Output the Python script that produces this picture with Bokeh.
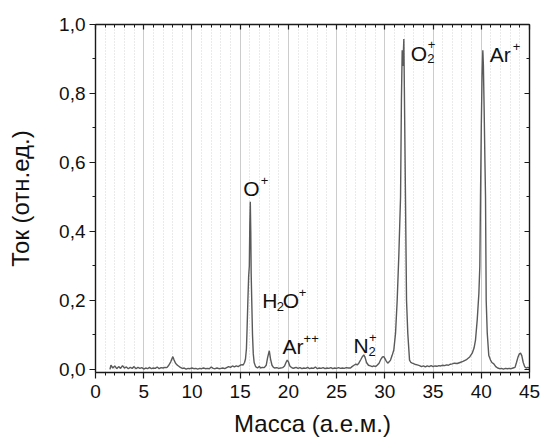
from bokeh.plotting import figure
from bokeh.models import (Range1d, FixedTicker, CustomJSTickFormatter, LinearAxis,
                          ColumnDataSource)
from bokeh.core.properties import value
from bokeh.embed import file_html
from bokeh.resources import INLINE

# ---- spectrum ----
mass = [
    1.5, 1.6, 1.8, 2.0, 2.2, 2.4, 2.6, 2.8, 3.0, 3.2, 3.4, 3.6, 3.8, 4.0, 4.2, 4.4, 4.6, 4.8,
    5.0, 5.2, 5.4, 5.6, 5.8, 6.0, 6.2, 6.4, 6.6, 6.8, 7.0, 7.2, 7.4, 7.6, 7.8, 8.02, 8.15,
    8.3, 8.45, 8.6, 8.8, 9.0, 9.2, 9.4, 9.6, 9.8, 10.0, 10.2, 10.4, 10.6, 10.8, 11.0, 11.2,
    11.4, 11.6, 11.8, 12.0, 12.2, 12.4, 12.6, 12.8, 13.0, 13.2, 13.4, 13.6, 13.8, 14.0,
    14.2, 14.4, 14.6, 14.8, 15.0, 15.2, 15.3, 15.45, 15.55, 15.65, 15.72, 15.8, 15.88,
    15.95, 16.0, 16.05, 16.1, 16.14, 16.2, 16.28, 16.36, 16.45, 16.6, 16.8, 17.0, 17.1,
    17.3, 17.5, 17.7, 17.85, 18.02, 18.15, 18.3, 18.45, 18.6, 18.8, 19.0, 19.2, 19.4,
    19.6, 19.75, 19.88, 20.0, 20.15, 20.35, 20.5, 20.6, 20.8, 21.0, 21.2, 21.4, 21.6, 21.8,
    22.0, 22.2, 22.4, 22.6, 22.8, 23.0, 23.2, 23.4, 23.6, 23.8, 24.0, 24.2, 24.4, 24.6,
    24.8, 25.0, 25.2, 25.4, 25.6, 25.8, 26.0, 26.2, 26.44, 26.6, 26.8, 27.0, 27.13, 27.3,
    27.5, 27.65, 27.82, 27.95, 28.1, 28.3, 28.5, 28.7, 28.85, 29.03, 29.2, 29.4, 29.6,
    29.75, 29.89, 30.0, 30.15, 30.3, 30.45, 30.59, 30.75, 30.93, 31.11, 31.28, 31.45,
    31.63, 31.72, 31.8, 31.86, 31.9, 31.97, 32.03, 32.14, 32.25, 32.38, 32.56, 32.7,
    32.84, 33.1, 33.36, 33.6, 33.8, 34.0, 34.2, 34.4, 34.6, 34.8, 35.0, 35.2, 35.4, 35.6,
    35.8, 36.0, 36.2, 36.4, 36.6, 36.8, 37.0, 37.2, 37.5, 37.8, 38.1, 38.37, 38.54, 38.8,
    39.06, 39.25, 39.4, 39.58, 39.75, 39.85, 39.92, 40.0, 40.08, 40.16, 40.22, 40.3,
    40.38, 40.44, 40.51, 40.62, 40.78, 40.96, 41.1, 41.3, 41.5, 41.7, 41.9, 42.1, 42.3,
    42.5, 42.7, 42.9, 43.1, 43.3, 43.5, 43.65, 43.8, 43.95, 44.07, 44.2, 44.35, 44.5,
    44.65, 44.8, 45.0,
]
current = [
    0.000, 0.012, 0.004, 0.010, 0.002, 0.008, 0.003, 0.011, 0.004, 0.007, 0.002, 0.006, 0.003, 0.008, 0.002, 0.006, 0.003, 0.005,
    0.001, 0.004, 0.002, 0.006, 0.002, 0.004, 0.003, 0.007, 0.002, 0.005, 0.004, 0.006, 0.005, 0.012, 0.022, 0.037, 0.027,
    0.018, 0.013, 0.010, 0.006, 0.003, 0.004, 0.001, 0.003, 0.002, 0.004, 0.002, 0.003, 0.001, 0.003, 0.002, 0.004,
    0.002, 0.003, 0.002, 0.007, 0.003, 0.002, 0.004, 0.002, 0.003, 0.004, 0.002, 0.005, 0.008, 0.006,
    0.010, 0.007, 0.010, 0.008, 0.012, 0.014, 0.012, 0.020, 0.030, 0.060, 0.120, 0.200, 0.270,
    0.300, 0.420, 0.486, 0.400, 0.280, 0.200, 0.100, 0.045, 0.020, 0.008, 0.004, 0.009, 0.004,
    0.006, 0.005, 0.012, 0.035, 0.054, 0.030, 0.012, 0.006, 0.004, 0.005, 0.003, 0.004, 0.005,
    0.010, 0.020, 0.027, 0.022, 0.010, 0.005, 0.003, 0.004, 0.006, 0.003, 0.005, 0.002, 0.004, 0.003,
    0.006, 0.002, 0.004, 0.003, 0.007, 0.002, 0.004, 0.003, 0.005, 0.002, 0.004, 0.003, 0.005, 0.002,
    0.004, 0.003, 0.005, 0.003, 0.004, 0.003, 0.005, 0.004, 0.004, 0.008, 0.012, 0.015, 0.013, 0.018,
    0.028, 0.036, 0.042, 0.035, 0.020, 0.012, 0.010, 0.008, 0.010, 0.008, 0.012, 0.018, 0.030,
    0.036, 0.037, 0.032, 0.024, 0.018, 0.022, 0.027, 0.040, 0.056, 0.105, 0.200, 0.330,
    0.500, 0.780, 0.925, 0.880, 0.900, 0.958, 0.800, 0.500, 0.200, 0.105, 0.027, 0.020,
    0.018, 0.015, 0.013, 0.011, 0.008, 0.010, 0.007, 0.010, 0.008, 0.011, 0.008, 0.010, 0.009, 0.011,
    0.010, 0.012, 0.011, 0.013, 0.012, 0.015, 0.016, 0.018, 0.017, 0.020, 0.023, 0.027, 0.030, 0.036,
    0.047, 0.062, 0.085, 0.144, 0.220, 0.300, 0.500, 0.700, 0.850, 0.925, 0.880, 0.750,
    0.600, 0.500, 0.200, 0.105, 0.040, 0.027, 0.020, 0.016, 0.008, 0.004, 0.002, 0.003, 0.001,
    0.003, 0.002, 0.003, 0.002, 0.004, 0.006, 0.020, 0.035, 0.045, 0.047, 0.040, 0.020, 0.008,
    0.004, 0.006, 0.004,
]

x_ticks = [0, 5, 10, 15, 20, 25, 30, 35, 40, 45]
x_minor_ticks = list(range(0, 46))
y_ticks = [0.0, 0.2, 0.4, 0.6, 0.8, 1.0]
y_minor_ticks = [0.0, 0.1, 0.2, 0.3, 0.4, 0.5, 0.6, 0.7, 0.8, 0.9, 1.0]
y_tick_labels = ["0,0", "0,2", "0,4", "0,6", "0,8", "1,0"]

x_title = "Масса (а.е.м.)"
y_title = "Ток (отн.ед.)"

# ion labels: pieces (text, anchor x, anchor y)
ion_text = ["O", "+", "H", "2", "O", "+", "Ar", "++", "N", "2", "+", "O", "2", "+", "Ar", "+"]
ion_x = [15.33, 15.33, 17.3, 17.3, 17.3, 17.3, 19.4, 19.4, 26.74, 26.74, 26.74, 32.7, 32.7, 32.7, 40.88, 40.88]
ion_y = [0.525, 0.525, 0.201, 0.201, 0.201, 0.201, 0.066, 0.066, 0.069, 0.069, 0.069, 0.915, 0.915, 0.915, 0.913, 0.913]

FONT = "Liberation Sans"
ion_dx = [0, 17.5, 0, 14.5, 20.5, 36.5, 0, 21, 0, 15, 15.5, 0, 16.5, 17, 0, 23]
ion_dy = [0, -8, 0, 6, 0, -8, 0, -8, 0, 6, -8, 0, 5, -9, 0, -8]
ion_size = ["21px" if t in ("O", "H", "Ar", "N") else "13px" for t in ion_text]

p = figure(width=541, height=444, output_backend="svg", toolbar_location=None,
           x_range=Range1d(0, 45), y_range=Range1d(-0.009, 1.0),
           min_border_left=95, min_border_right=12, min_border_top=24, min_border_bottom=72)
p.outline_line_color = None
p.background_fill_color = "white"

p.line(mass, current, line_color="#5a5a5a", line_width=1.4)

src = ColumnDataSource(dict(x=ion_x, y=ion_y, text=ion_text, dx=ion_dx, dy=ion_dy, size=ion_size))
p.text(x="x", y="y", text="text", x_offset="dx", y_offset="dy", text_font_size="size",
       text_font=value(FONT), text_color="#111111", text_align="left",
       text_baseline="alphabetic", source=src)

xt = FixedTicker(ticks=x_ticks, minor_ticks=x_minor_ticks)
yt = FixedTicker(ticks=y_ticks, minor_ticks=y_minor_ticks)
yfmt = CustomJSTickFormatter(args=dict(tvals=y_ticks, tlabels=y_tick_labels), code="""
const i = tvals.findIndex(t => Math.abs(t - tick) < 1e-9);
return i >= 0 ? tlabels[i] : '';
""")
blank = CustomJSTickFormatter(code="return '';")

def style(ax, out=True):
    ax.axis_line_color = "#1a1a1a"
    ax.axis_line_width = 1.4
    ax.major_tick_line_color = "#1a1a1a"
    ax.minor_tick_line_color = "#1a1a1a"
    ax.major_tick_line_width = 1.2
    ax.minor_tick_line_width = 1.0
    if out:
        ax.major_tick_out = 6
        ax.major_tick_in = 0
        ax.minor_tick_out = 3
        ax.minor_tick_in = 0
    else:
        ax.major_tick_out = 0
        ax.major_tick_in = 5
        ax.minor_tick_out = 0
        ax.minor_tick_in = 3
    ax.major_label_text_font = FONT
    ax.major_label_text_font_size = "19px"
    ax.major_label_text_color = "#111111"
    ax.axis_label_text_font = FONT
    ax.axis_label_text_font_size = "24px"
    ax.axis_label_text_font_style = "normal"
    ax.axis_label_text_color = "#111111"

xa = p.xaxis[0]
xa.ticker = xt
style(xa)
xa.major_label_standoff = 6
xa.axis_label = x_title
xa.axis_label_standoff = 9

ya = p.yaxis[0]
ya.ticker = yt
ya.formatter = yfmt
style(ya)
ya.major_label_standoff = 4
ya.axis_label = y_title
ya.axis_label_standoff = 22

top = LinearAxis(ticker=xt, formatter=blank)
style(top, out=False)
top.major_label_standoff = 0
p.add_layout(top, "above")

right = LinearAxis(ticker=yt, formatter=blank)
style(right, out=False)
right.major_label_standoff = 0
p.add_layout(right, "right")

p.xgrid.ticker = xt
p.xgrid.grid_line_color = "#cccccc"
p.xgrid.grid_line_width = 1
p.xgrid.minor_grid_line_color = "#d4d4d4"
p.xgrid.minor_grid_line_dash = "1 2"
p.xgrid.minor_grid_line_width = 1
p.ygrid.grid_line_color = None

open("out.html", "w").write(file_html(p, INLINE))
